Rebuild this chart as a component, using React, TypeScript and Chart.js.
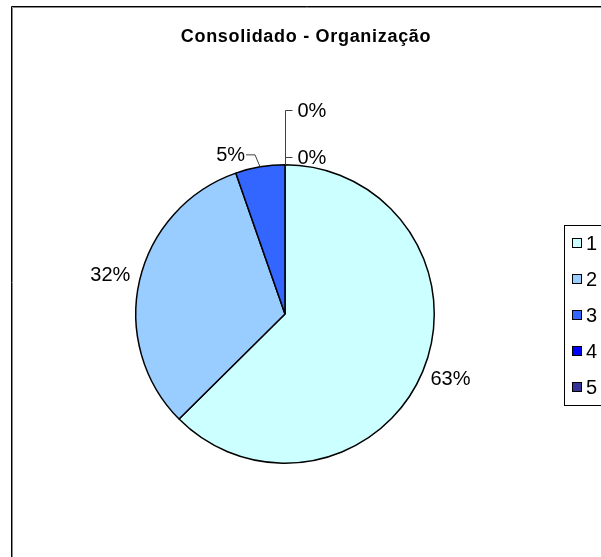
import React, { useEffect, useRef } from "react";
import { Chart, registerables } from "chart.js";

Chart.register(...registerables);

const chartTitle = "Consolidado - Organização";
const categories = ["1", "2", "3", "4", "5"];
const values = [117, 60, 10, 0, 0];
const sliceColors = ["#CCFFFF", "#99CCFF", "#3366FF", "#0000FF", "#333399"];

const FONT = '"Liberation Sans", Arial, sans-serif';

const decorPlugin = {
  id: "decor",
  beforeDraw(chart: any) {
    const ctx = chart.ctx;
    ctx.save();
    ctx.fillStyle = "#ffffff";
    ctx.fillRect(0, 0, chart.width, chart.height);
    ctx.restore();
  },
  afterDraw(chart: any) {
    const ctx = chart.ctx;
    ctx.save();
    // outer frame (cut by the window on right/bottom)
    ctx.lineWidth = 1;
    ctx.strokeStyle = "#000";
    ctx.beginPath();
    ctx.moveTo(11.5, chart.height + 5);
    ctx.lineTo(11.5, 6.5);
    ctx.lineTo(chart.width + 5, 6.5);
    ctx.stroke();
    ctx.strokeStyle = "#8a8a8a";
    ctx.beginPath();
    ctx.moveTo(12.5, chart.height + 5);
    ctx.lineTo(12.5, 7.5);
    ctx.lineTo(chart.width + 5, 7.5);
    ctx.stroke();

    // title
    ctx.fillStyle = "#000";
    ctx.font = `bold 18px ${FONT}`;
    (ctx as any).letterSpacing = "0.7px";
    ctx.textAlign = "center";
    ctx.textBaseline = "middle";
    ctx.fillText(chartTitle, 306, 37);

    // data labels
    const meta = chart.getDatasetMeta(0);
    const data = chart.data.datasets[0].data as number[];
    const total = data.reduce((a, b) => a + b, 0);
    ctx.font = `20px ${FONT}`;
    (ctx as any).letterSpacing = "0px";
    ctx.lineWidth = 1;
    ctx.strokeStyle = "#404040";
    meta.data.forEach((arc: any, i: number) => {
      const p = arc.getProps(["x", "y", "startAngle", "endAngle", "outerRadius"], true);
      const mid = (p.startAngle + p.endAngle) / 2;
      const label = Math.round((data[i] / total) * 100) + "%";
      const ax = p.x + p.outerRadius * Math.cos(mid);
      const ay = p.y + p.outerRadius * Math.sin(mid);
      if (i <= 1) {
        const rx = p.outerRadius + 30;
        const ry = p.outerRadius + 22;
        ctx.textAlign = "center";
        ctx.fillText(label, p.x + rx * Math.cos(mid), p.y + ry * Math.sin(mid));
      } else if (i === 2) {
        const ex = ax - 5;
        const ey = ay - 12;
        ctx.beginPath();
        ctx.moveTo(ax, ay);
        ctx.lineTo(ex, ey);
        ctx.lineTo(ex - 9, ey);
        ctx.stroke();
        ctx.textAlign = "right";
        ctx.fillText(label, ex - 10, ey + 1);
      } else {
        const dy = i === 3 ? -8 : -55;
        const ex = Math.round(ax) + 0.5;
        const ey = Math.round(ay + dy) + 0.5;
        ctx.beginPath();
        ctx.moveTo(ex, ay);
        ctx.lineTo(ex, ey);
        ctx.lineTo(ex + 7, ey);
        ctx.stroke();
        ctx.textAlign = "left";
        ctx.fillText(label, ex + 12, ey + 1);
      }
    });

    // legend
    const lx = 564.5;
    const ly = 225.5;
    ctx.strokeStyle = "#000";
    ctx.lineWidth = 1;
    ctx.strokeRect(lx, ly, 120, 180);
    categories.forEach((c, i) => {
      const cy = 243 + i * 36;
      ctx.fillStyle = sliceColors[i];
      ctx.fillRect(572, cy - 5, 10, 10);
      ctx.strokeStyle = "#000";
      ctx.strokeRect(572.5, cy - 4.5, 9, 9);
      ctx.fillStyle = "#000";
      ctx.textAlign = "left";
      ctx.fillText(c, 586, cy + 1);
    });
    ctx.restore();
  },
};

export default function App() {
  const ref = useRef<HTMLCanvasElement | null>(null);
  useEffect(() => {
    document.body.style.margin = "0";
    const canvas = ref.current!;
    const chart = new Chart(canvas, {
      type: "pie",
      data: {
        labels: categories,
        datasets: [
          {
            data: values,
            backgroundColor: sliceColors,
            borderColor: "#000",
            borderWidth: 1.5,
          },
        ],
      },
      options: {
        responsive: false,
        animation: false,
        events: [],
        layout: { padding: { left: 135, right: 166, top: 164, bottom: 93 } },
        plugins: {
          legend: { display: false },
          title: { display: false },
          tooltip: { enabled: false },
        },
      },
      plugins: [decorPlugin],
    });
    return () => chart.destroy();
  }, []);
  return (
    <div style={{ width: 601, height: 557 }}>
      <canvas ref={ref} width={601} height={557} style={{ display: "block" }} />
    </div>
  );
}
